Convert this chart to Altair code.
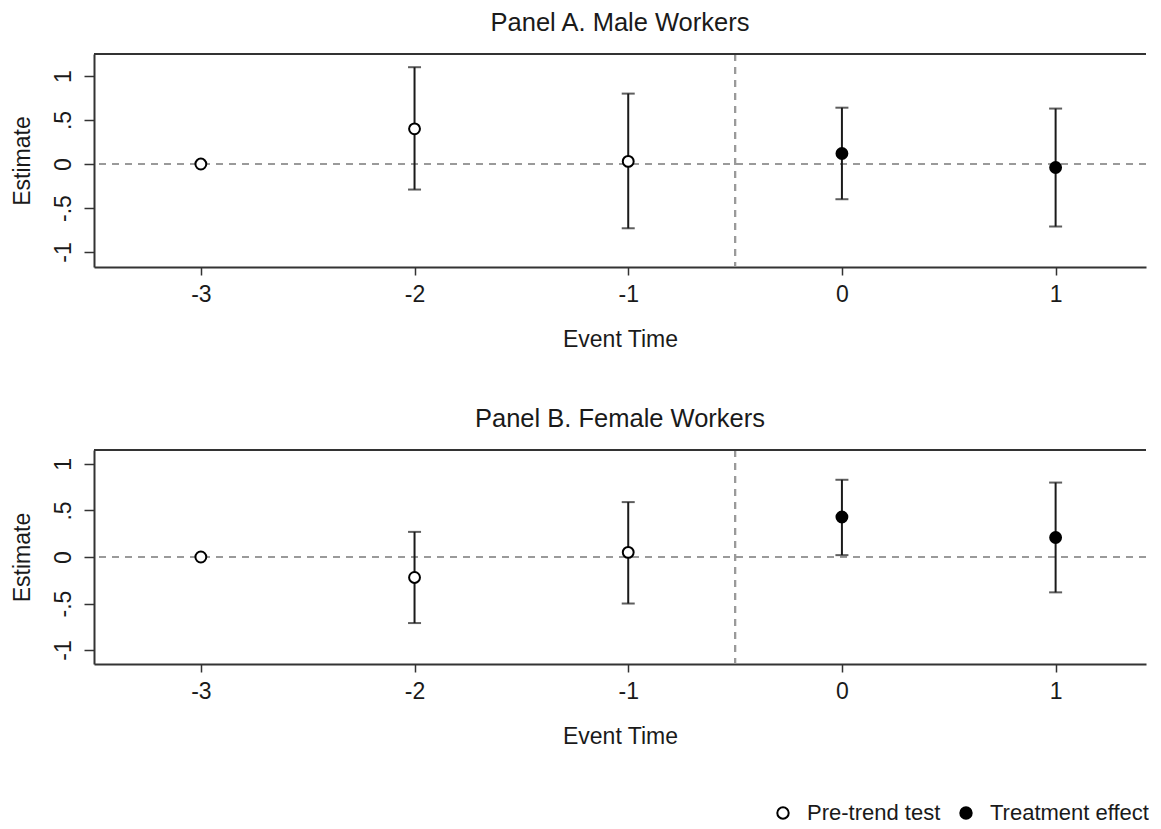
import altair as alt
import pandas as pd

event_time = [-3, -2, -1, 0, 1]
kind = ["Pre-trend test", "Pre-trend test", "Pre-trend test", "Treatment effect", "Treatment effect"]

male_est = [0.0, 0.40, 0.03, 0.12, -0.04]
male_lo = [0.0, -0.29, -0.73, -0.40, -0.71]
male_hi = [0.0, 1.10, 0.80, 0.64, 0.63]

female_est = [0.0, -0.22, 0.05, 0.43, 0.21]
female_lo = [0.0, -0.71, -0.50, 0.02, -0.38]
female_hi = [0.0, 0.27, 0.59, 0.83, 0.80]

x_ticks = [-3, -2, -1, 0, 1]
y_ticks = [-1, -0.5, 0, 0.5, 1]

FONT = "Liberation Sans"
W = 1052
INK = "#1a1a1a"


def make_df(est, lo, hi):
    return pd.DataFrame({"t": event_time, "est": est, "lo": lo, "hi": hi, "type": kind})


def panel(df, title, ydom, h, show_legend):
    xaxis = alt.Axis(values=x_ticks, title="Event Time", labelExpr="toString(datum.value)",
                     tickSize=8, labelPadding=8, titlePadding=22)
    yaxis = alt.Axis(values=y_ticks, title="Estimate", labelAngle=270, tickSize=10,
                     labelPadding=9, titlePadding=18,
                     labelExpr="datum.value == 0.5 ? '.5' : datum.value == -0.5 ? '-.5' : toString(datum.value)")
    xs = alt.Scale(domain=[-3.5, 1.423], nice=False, zero=False)
    ys = alt.Scale(domain=ydom, nice=False, zero=False)

    def X(f):
        return alt.X(f, type="quantitative", scale=xs, axis=xaxis)

    def Y(f):
        return alt.Y(f, type="quantitative", scale=ys, axis=yaxis)

    base = alt.Chart(df)
    hline = base.mark_rule(color="#9a9a9a", strokeWidth=2, strokeDash=[7, 6]).encode(y=alt.datum(0))
    vline = base.mark_rule(color="#9a9a9a", strokeWidth=2, strokeDash=[7, 6]).encode(x=alt.datum(-0.5))
    ci = base.transform_filter("datum.lo != datum.hi")
    bars = ci.mark_rule(color=INK, strokeWidth=2).encode(x=X("t"), y=Y("lo"), y2="hi:Q")
    cap_lo = ci.mark_tick(orient="horizontal", size=13, thickness=2, color=INK).encode(x=X("t"), y=Y("lo"))
    cap_hi = ci.mark_tick(orient="horizontal", size=13, thickness=2, color=INK).encode(x=X("t"), y=Y("hi"))
    legend = alt.Legend(orient="none", legendX=678, legendY=748, direction="horizontal", title=None,
                        symbolType="circle", symbolSize=130, symbolStrokeWidth=2,
                        symbolStrokeColor="black", labelFontSize=22, labelFont=FONT,
                        labelColor=INK, columnPadding=14, labelOffset=13, labelLimit=400)
    pts = base.mark_point(shape="circle", filled=True, size=118, stroke="black",
                          strokeWidth=2, opacity=1).encode(
        x=X("t"), y=Y("est"),
        fill=alt.Fill("type:N", scale=alt.Scale(domain=["Pre-trend test", "Treatment effect"],
                                                 range=["white", "black"]),
                      legend=legend))
    border = base.mark_rule(color="#333333", strokeWidth=2).encode(
        x=alt.value(0), x2=alt.value(W), y=alt.value(0))
    return alt.layer(hline, vline, bars, cap_lo, cap_hi, pts, border).properties(
        width=W, height=h,
        title=alt.TitleParams(title, fontSize=25.5, font=FONT, fontWeight="normal",
                              anchor="middle", color=INK, offset=17))


pa = panel(make_df(male_est, male_lo, male_hi), "Panel A. Male Workers", [-1.17, 1.25], 213, True)
pb = panel(make_df(female_est, female_lo, female_hi), "Panel B. Female Workers", [-1.15, 1.15], 214, False)

chart = alt.vconcat(pa, pb, spacing=55).properties(
    padding={"left": 2, "top": 2, "right": 0, "bottom": 0}
).configure_view(stroke=None).configure_axis(
    domainColor="#333333", domainWidth=2, tickColor="#333333", tickWidth=1.5,
    labelFont=FONT, titleFont=FONT, labelFontSize=23, titleFontSize=23,
    titleFontWeight="normal", labelColor=INK, titleColor=INK, grid=False
).configure_legend(symbolStrokeColor="black")

chart.save("out.html", embed_options={"renderer": "svg", "actions": False})
